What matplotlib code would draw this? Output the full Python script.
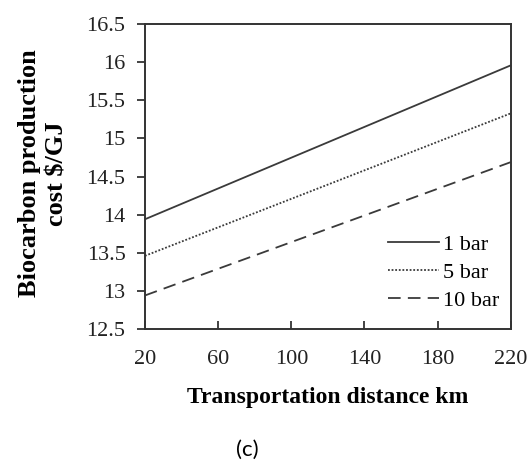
import matplotlib.pyplot as plt
from matplotlib.ticker import FuncFormatter

# distance (km) and cost ($/GJ) at the ends of each line
distance = [20, 220]
cost_1bar = [13.94, 15.96]
cost_5bar = [13.46, 15.33]
cost_10bar = [12.94, 14.69]
series_names = ["1 bar", "5 bar", "10 bar"]

xticks = [20, 60, 100, 140, 180, 220]
yticks = [12.5, 13, 13.5, 14, 14.5, 15, 15.5, 16, 16.5]

serif = "Liberation Serif"

fig = plt.figure(figsize=(5.31, 4.65), dpi=100)
ax = fig.add_axes([0.273, 0.2925, 0.689, 0.6555])

ax.plot(distance, cost_1bar, color="#3a3a3a", lw=1.3, label=series_names[0])
ax.plot(distance, cost_5bar, color="#3a3a3a", lw=1.3, linestyle=(0, (1, 1)), label=series_names[1])
ax.plot(distance, cost_10bar, color="#3a3a3a", lw=1.3, linestyle=(0, (7, 4)), label=series_names[2])

ax.set_xlim(20, 220)
ax.set_ylim(12.5, 16.5)
ax.set_xticks(xticks)
ax.set_yticks(yticks)
ax.yaxis.set_major_formatter(FuncFormatter(lambda v, p: "{:g}".format(v)))

ax.tick_params(axis="x", direction="in", length=6, width=1.2, pad=15, labelsize=16, colors="#222222")
ax.tick_params(axis="y", direction="out", length=6, width=1.2, pad=8, labelsize=16, colors="#222222")
for lab in ax.get_xticklabels() + ax.get_yticklabels():
    lab.set_fontfamily(serif)

for s in ax.spines.values():
    s.set_linewidth(1.4)
    s.set_color("#333333")

ax.set_xlabel("Transportation distance km", fontfamily=serif, fontweight="bold", fontsize=17)
ax.set_ylabel("Biocarbon production\ncost \\$/GJ", fontfamily=serif, fontweight="bold", fontsize=19,
              linespacing=1.25)
ax.xaxis.set_label_coords(0.5, -0.19)
ax.yaxis.set_label_coords(-0.21, 0.51)

leg = ax.legend(loc="upper left", bbox_to_anchor=(0.664, 0.31), frameon=False, handlelength=2.3,
                handletextpad=0.2, labelspacing=0.34, borderpad=0, borderaxespad=0,
                prop={"family": serif, "size": 16})

fig.text(0.465, 0.033, "(c)", fontfamily="Lato", fontsize=16, ha="center", va="center")

fig.savefig("out.png", dpi=100)
